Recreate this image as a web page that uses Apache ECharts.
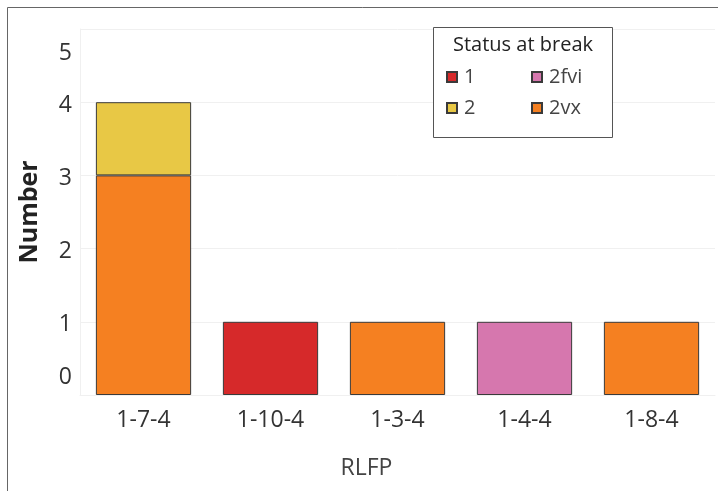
<!DOCTYPE html>
<html><head><meta charset="utf-8">
<script src="https://cdn.jsdelivr.net/npm/echarts@6/dist/echarts.min.js"></script>
<style>html,body{margin:0;padding:0;background:#fff}#c{width:718px;height:491px}</style>
</head><body><div id="c"></div>
<script>
const categories = ['1-7-4', '1-10-4', '1-3-4', '1-4-4', '1-8-4'];
const s2vx = [3, 0, 1, 0, 1];
const s2 = [1, 0, 0, 0, 0];
const s1 = [0, 1, 0, 0, 0];
const s2fvi = [0, 0, 0, 1, 0];
const yTicks = [0, 1, 2, 3, 4, 5];
const FONT = '"Open Sans", "Noto Sans", sans-serif';

const chart = echarts.init(document.getElementById('c'));
function mk(name, data, color) {
  return {
    name, type: 'bar', stack: 'a', data: data.map(v => v === 0 ? null : v),
    barWidth: '75%',
    itemStyle: { color, borderColor: '#3a3a3a', borderWidth: 1 }
  };
}
chart.setOption({
  animation: false,
  textStyle: { fontFamily: FONT },
  grid: { left: 80, right: 3, top: 29, bottom: 96, containLabel: false },
  xAxis: {
    type: 'category', data: categories,
    axisLine: { show: true, lineStyle: { color: '#f0f0f0' } },
    axisTick: { show: false },
    axisLabel: { fontSize: 23, color: '#333', margin: 14, fontFamily: FONT },
    name: 'RLFP', nameLocation: 'middle', nameGap: 62,
    nameTextStyle: { fontSize: 23, color: '#444', fontFamily: FONT, padding: [0, 62, 0, 0] }
  },
  yAxis: {
    type: 'value', min: yTicks[0], max: yTicks[yTicks.length - 1], interval: 1,
    axisLine: { show: true, lineStyle: { color: '#f0f0f0' } },
    axisTick: { show: false },
    splitLine: { lineStyle: { color: '#f0f0f0' } },
    axisLabel: {
      fontSize: 23, color: '#333', margin: 8, fontFamily: FONT,
      formatter: v => v === 5 ? '{top|5}' : (v === 0 ? '{bot|0}' : '{n|' + v + '}'),
      rich: {
        top: { fontSize: 23, color: '#333', fontFamily: FONT, padding: [48, 0, 0, 0] },
        bot: { fontSize: 23, color: '#333', fontFamily: FONT, padding: [0, 0, 36, 0] },
        n: { fontSize: 23, color: '#333', fontFamily: FONT, padding: [6, 0, 0, 0] }
      }
    },
    name: 'Number', nameLocation: 'middle', nameGap: 38,
    nameTextStyle: { fontSize: 25, fontWeight: 'bold', color: '#222', fontFamily: FONT }
  },
  legend: [
    {
      data: ['1', '2'], orient: 'vertical', left: 441, top: 62,
      icon: 'rect', itemWidth: 10, itemHeight: 10, itemGap: 11,
      textStyle: { fontSize: 20, color: '#444', fontFamily: FONT, padding: [0, 0, 0, 2] }
    },
    {
      data: ['2fvi', '2vx'], orient: 'vertical', left: 526, top: 62,
      icon: 'rect', itemWidth: 10, itemHeight: 10, itemGap: 11,
      textStyle: { fontSize: 20, color: '#444', fontFamily: FONT, padding: [0, 0, 0, 2] }
    }
  ],
  graphic: [
    { type: 'line', shape: { x1: 7.5, y1: 7.5, x2: 718, y2: 7.5 }, style: { stroke: '#666', lineWidth: 1 } },
    { type: 'line', shape: { x1: 7.5, y1: 7.5, x2: 7.5, y2: 491 }, style: { stroke: '#666', lineWidth: 1 } },
    { type: 'rect', shape: { x: 433.5, y: 27.5, width: 179, height: 110 }, style: { fill: '#fff', stroke: '#555', lineWidth: 1 }, z: 1 },
    { type: 'text', x: 523, y: 45, z: 2, style: { text: 'Status at break', fontSize: 20, fontWeight: 500, fontFamily: FONT, fill: '#222', align: 'center', verticalAlign: 'middle' } }
  ],
  series: [
    mk('2vx', s2vx, '#F58021'),
    mk('2', s2, '#E8C845'),
    mk('1', s1, '#D6292A'),
    mk('2fvi', s2fvi, '#D677AE')
  ]
});
</script></body></html>
